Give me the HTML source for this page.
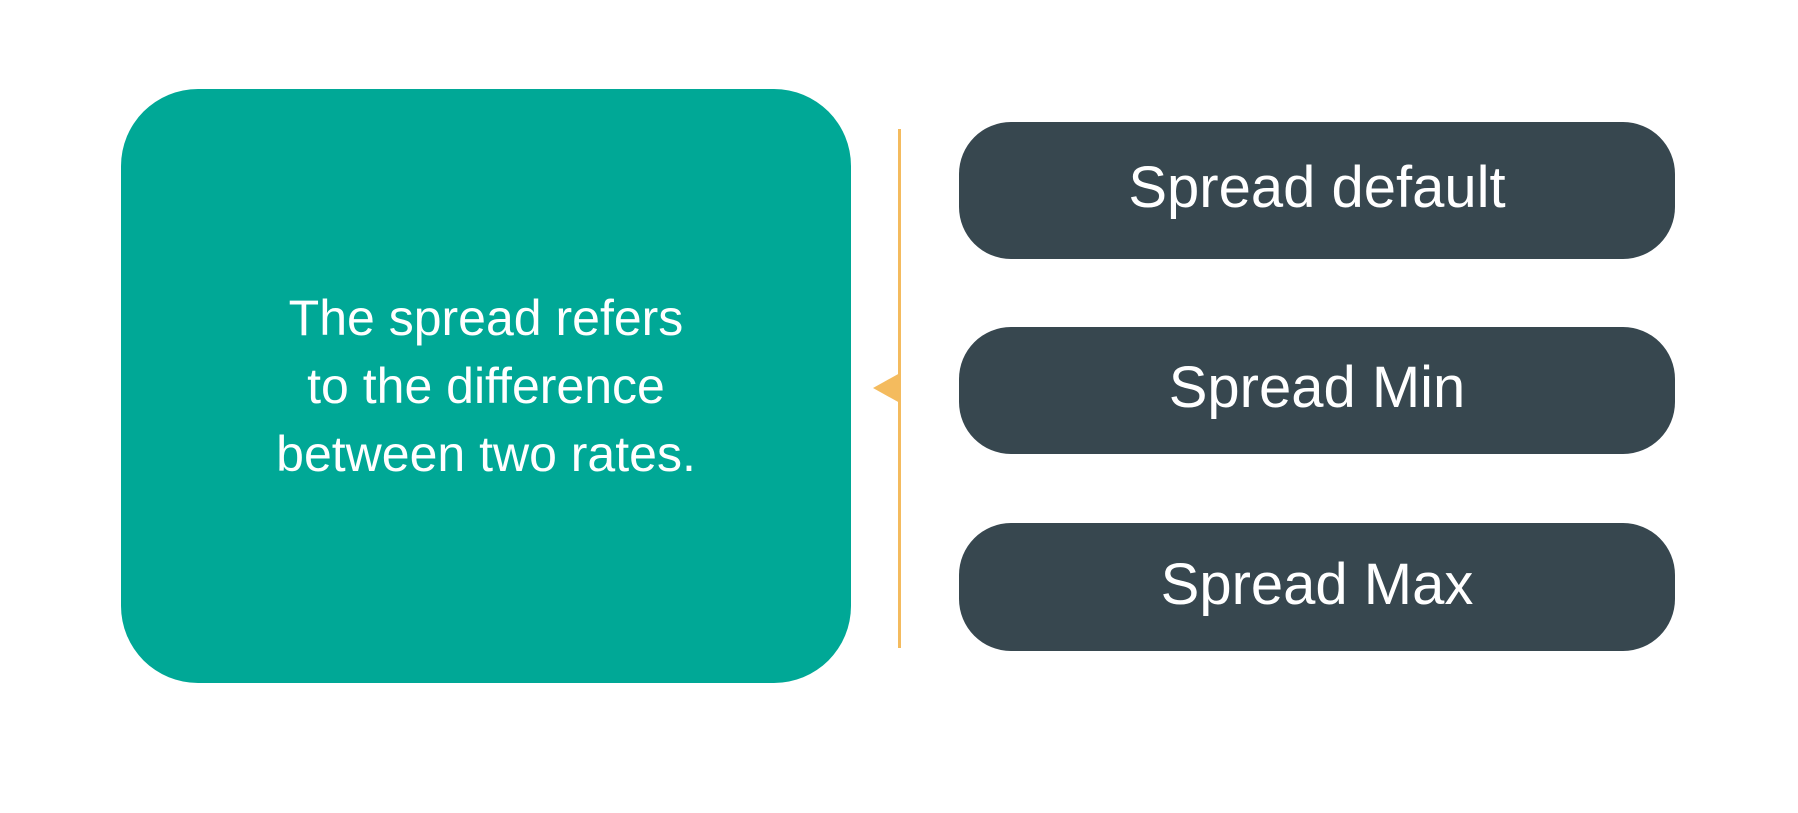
<!DOCTYPE html>
<html><head><style>
body{margin:0;width:1798px;height:813px;background:#fff;position:relative;overflow:hidden;font-family:"Liberation Sans",sans-serif;}
.t{position:absolute;left:121px;top:89px;width:730px;height:594px;background:#00a896;border-radius:77px;color:#fff;display:flex;align-items:center;justify-content:center;text-align:center;font-size:50px;line-height:68px;}
.d{position:absolute;left:959px;width:716px;background:#37474f;border-radius:52px;color:#fff;display:flex;align-items:center;justify-content:center;font-size:58px;box-sizing:border-box;padding-bottom:6px;}
.l{position:absolute;left:898px;top:129px;width:3px;height:519px;background:#f4bb5e;}
</style></head><body>
<div class="t"><div>The spread refers<br>to the difference<br>between two rates.</div></div>
<div class="l"></div>
<svg style="position:absolute;left:0;top:0" width="1798" height="813"><polygon points="873,388 900,373 900,403" fill="#f4bb5e"/></svg>
<div class="d" style="top:122px;height:137px">Spread default</div>
<div class="d" style="top:327px;height:127px">Spread Min</div>
<div class="d" style="top:523px;height:128px">Spread Max</div>
</body></html>
